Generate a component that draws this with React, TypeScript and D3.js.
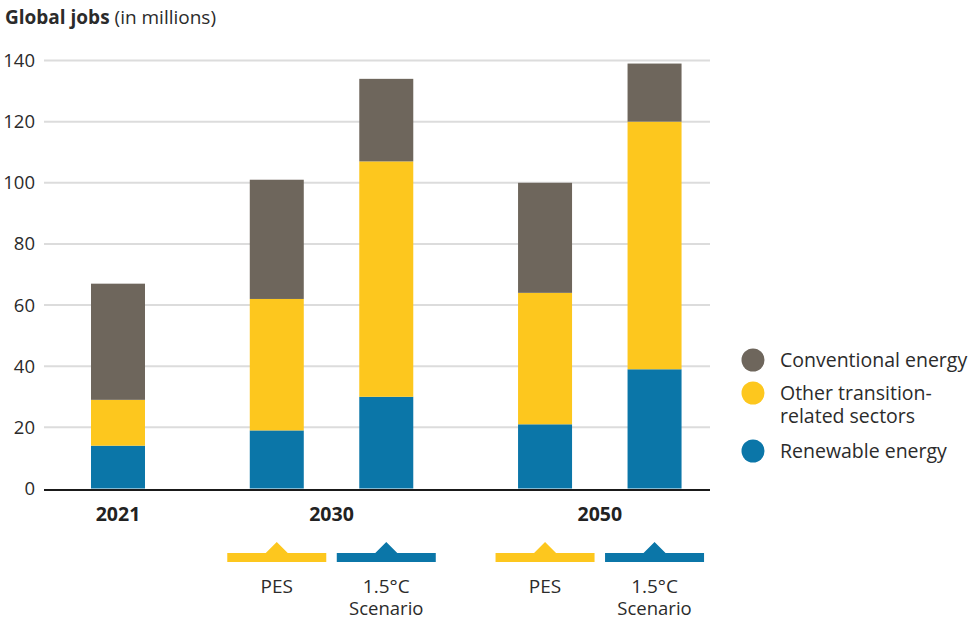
import React from "react";
import * as d3 from "d3";

const barKeys = ["2021", "2030 PES", "2030 1.5", "2050 PES", "2050 1.5"];
const barSlots = [0, 1.45, 2.45, 3.9, 4.9];
const renewable = [14, 19, 30, 21, 39];
const otherTransition = [15, 43, 77, 43, 81];
const conventional = [38, 39, 27, 36, 19];
const yearLabels = ["2021", "2030", "2050"];
const yearSlots = [0, 1.95, 4.4];
const scenarioNames = ["PES", "1.5°C", "PES", "1.5°C"];
const scenarioSlots = [1.45, 2.45, 3.9, 4.9];
const scenarioKinds = ["pes", "c15", "pes", "c15"];
const yTicks = [0, 20, 40, 60, 80, 100, 120, 140];
const seriesNames = ["Conventional energy", "Other transition-|related sectors", "Renewable energy"];

const COLORS: Record<string, string> = {
  renewable: "#0b76a8",
  other: "#fdc71e",
  conventional: "#6e665c",
};

const FONT = "'Open Sans', sans-serif";
const TEXT = "#2b2b2b";

export default function App() {
  const W = 973;
  const H = 620;
  const y = d3.scaleLinear().domain([0, 140]).range([488.5, 60.5]);
  const x = d3.scaleLinear().domain([0, 1]).range([118, 227.5]);
  const barW = 54;

  const rows = barKeys.map((k, i) => ({
    key: k,
    renewable: renewable[i],
    other: otherTransition[i],
    conventional: conventional[i],
  }));
  const stack = d3.stack<any>().keys(["renewable", "other", "conventional"]);
  const layers = stack(rows);

  const markerW = 99;
  const markerPath = (cx: number) => {
    const top = 553;
    const h = 9;
    const p = d3.path();
    p.moveTo(cx - markerW / 2, top);
    p.lineTo(cx - 11, top);
    p.lineTo(cx, top - 11);
    p.lineTo(cx + 11, top);
    p.lineTo(cx + markerW / 2, top);
    p.lineTo(cx + markerW / 2, top + h);
    p.lineTo(cx - markerW / 2, top + h);
    p.closePath();
    return p.toString();
  };

  const legendColors = [COLORS.conventional, COLORS.other, COLORS.renewable];
  const legendY = [360, 393, 451];

  return (
    <svg width={W} height={H} style={{ position: "absolute", left: 0, top: 0, fontFamily: FONT }}>
      <rect width={W} height={H} fill="#fff" />
      <text x={5} y={24} fontSize={19} fill={TEXT}>
        <tspan fontWeight={700}>Global jobs</tspan>
        <tspan> (in millions)</tspan>
      </text>
      {yTicks.map((t) => (
        <g key={t}>
          {t > 0 && (
            <line x1={44} x2={710} y1={y(t)} y2={y(t)} stroke="#dcdcdc" strokeWidth={2} />
          )}
          <text x={35} y={y(t)} dy="0.35em" textAnchor="end" fontSize={18.5} fill={TEXT}>
            {t}
          </text>
        </g>
      ))}
      {layers.map((layer) => (
        <g key={layer.key} fill={COLORS[layer.key]}>
          {layer.map((d, i) => (
            <rect
              key={i}
              x={x(barSlots[i]) - barW / 2}
              width={barW}
              y={y(d[1])}
              height={y(d[0]) - y(d[1])}
            />
          ))}
        </g>
      ))}
      <line x1={44} x2={710} y1={y(0) + 1.5} y2={y(0) + 1.5} stroke="#1a1a1a" strokeWidth={2} />
      {yearLabels.map((l, i) => (
        <text key={l} x={x(yearSlots[i])} y={521} textAnchor="middle" fontSize={19.5} fontWeight={700} fill="#222">
          {l}
        </text>
      ))}
      {scenarioSlots.map((s, i) => (
        <g key={i}>
          <path d={markerPath(x(s))} fill={scenarioKinds[i] === "pes" ? COLORS.other : COLORS.renewable} />
          <text x={x(s)} y={593} textAnchor="middle" fontSize={19} fill={TEXT}>
            {scenarioNames[i]}
          </text>
          {scenarioKinds[i] === "c15" && (
            <text x={x(s)} y={615} textAnchor="middle" fontSize={18.5} fill={TEXT}>
              Scenario
            </text>
          )}
        </g>
      ))}
      {seriesNames.map((n, i) => {
        const lines = n.split("|");
        return (
          <g key={n}>
            <circle cx={753} cy={legendY[i]} r={11.5} fill={legendColors[i]} />
            {lines.map((ln, j) => (
              <text key={j} x={780} y={legendY[i] + j * 23} dy="0.35em" fontSize={19.5} fill={TEXT}>
                {ln}
              </text>
            ))}
          </g>
        );
      })}
    </svg>
  );
}
